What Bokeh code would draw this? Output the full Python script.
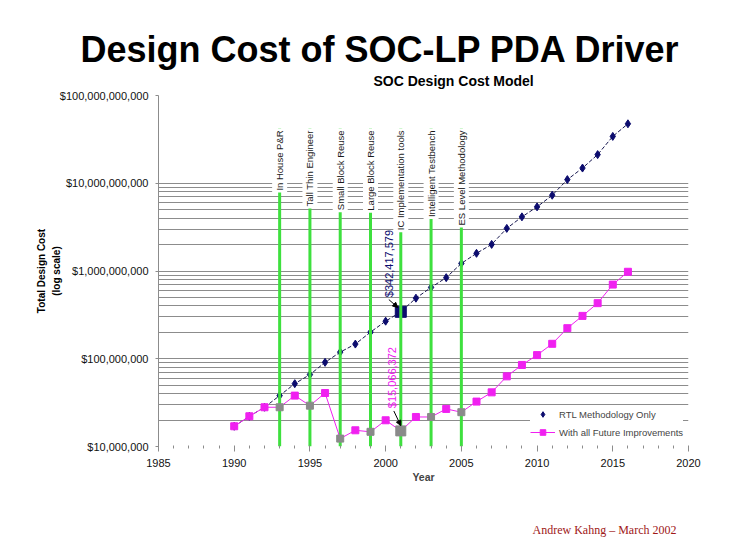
import math
from bokeh.plotting import figure
from bokeh.models import (Range1d, NumeralTickFormatter, FixedTicker, Grid, Label, Title,
                          Arrow, NormalHead, Legend, LegendItem, ColumnDataSource,
                          SingleIntervalTicker)
from bokeh.core.properties import value
from bokeh.embed import file_html
from bokeh.resources import INLINE

# ---------------- data ----------------
years = list(range(1990, 2017))
rtl_cost = [1.70e7, 2.21e7, 2.80e7, 3.80e7, 5.2e7, 6.6e7, 9.1e7, 1.19e8, 1.47e8,
            2.01e8, 2.68e8, 342417579, 4.9e8, 6.5e8, 8.4e8, 1.22e9, 1.59e9, 2.01e9,
            3.06e9, 4.14e9, 5.38e9, 7.3e9, 1.10e10, 1.49e10, 2.12e10, 3.42e10, 4.76e10]
improved_cost = [1.70e7, 2.21e7, 2.80e7, 2.80e7, 3.80e7, 2.92e7, 4.07e7, 1.23e7, 1.53e7,
                 1.47e7, 1.99e7, 15066372, 2.17e7, 2.17e7, 2.68e7, 2.46e7, 3.25e7, 4.14e7,
                 6.3e7, 8.5e7, 1.10e8, 1.48e8, 2.23e8, 3.08e8, 4.30e8, 7.0e8, 9.8e8]
milestone_years = [1993, 1995, 1997, 1999, 2001, 2003, 2005]
milestone_labels = ["In House P&R", "Tall Thin Engineer", "Small Block Reuse",
                    "Large Block Reuse", "IC Implementation tools",
                    "Intelligent Testbench", "ES Level Methodology"]
highlight_year = 2001
series_names = ["RTL Methodology Only", "With all Future Improvements"]
y_ticks = [1e7, 1e8, 1e9, 1e10, 1e11]

# ---------------- style ----------------
FONT = "Liberation Sans"
NAVY = "#0c0c6e"
MAGENTA = "#f020f0"
GREEN = "#3ee03e"
GRID = "#8c8c8c"
LABEL_TOP = 10 ** 10.625

p = figure(width=742, height=540, x_range=Range1d(1985, 2020), y_range=Range1d(1e7, 1e11),
           y_axis_type="log", output_backend="svg", toolbar_location=None,
           min_border_left=158, min_border_right=54, min_border_top=95, min_border_bottom=94)
p.outline_line_color = None
p.background_fill_color = "white"
p.xgrid.visible = False
p.ygrid.visible = False

grid_vals = [k * 10 ** n for n in range(7, 10) for k in range(2, 11)]
p.add_layout(Grid(dimension=1, ticker=FixedTicker(ticks=grid_vals),
                  grid_line_color=GRID, grid_line_width=1))

# y axis
ya = p.yaxis[0]
ya.ticker = FixedTicker(ticks=y_ticks)
ya.formatter = NumeralTickFormatter(format="$0,0")
ya.minor_tick_line_color = None
ya.major_tick_in = 0
ya.major_tick_out = 3
ya.major_tick_line_color = GRID
ya.axis_line_color = GRID
ya.major_label_text_font = FONT
ya.major_label_text_font_size = "11px"
ya.major_label_text_color = "#111111"
ya.major_label_standoff = 7
ya.axis_label = "Total Design Cost\n(log scale)"
ya.axis_label_text_font = FONT
ya.axis_label_text_font_size = "10px"
ya.axis_label_text_font_style = "bold"
ya.axis_label_text_color = "black"
ya.axis_label_text_line_height = 1.3
ya.axis_label_standoff = -5

# x axis
xa = p.xaxis[0]
xa.ticker = SingleIntervalTicker(interval=5, num_minor_ticks=5)
xa.axis_line_color = None
xa.major_tick_line_color = GRID
xa.minor_tick_line_color = GRID
xa.major_tick_in = 0
xa.major_tick_out = 5
xa.minor_tick_in = 1
xa.minor_tick_out = 2
xa.major_label_text_font = FONT
xa.major_label_text_font_size = "11px"
xa.major_label_text_color = "#111111"
xa.major_label_standoff = 7
xa.axis_label = "Year"
xa.axis_label_text_font = FONT
xa.axis_label_text_font_size = "10.5px"
xa.axis_label_text_font_style = "bold"
xa.axis_label_standoff = 1

# ---------------- series ----------------
hi = years.index(highlight_year)
src = ColumnDataSource(dict(
    x=years, rtl=rtl_cost, imp=improved_cost,
    imp_color=["#8a8a8a" if y in milestone_years else MAGENTA for y in years],
))

p.scatter([highlight_year], [rtl_cost[hi]], marker="square", size=11, color=NAVY)
p.line("x", "rtl", source=src, color="#16164e", line_width=1, line_dash="4 2")
rtl_pts = p.scatter("x", "rtl", source=src, marker="diamond", size=8, color=NAVY)

n = len(milestone_years)
p.segment(x0=milestone_years, y0=[p.y_range.start] * n, x1=milestone_years,
          y1=[LABEL_TOP] * n, line_color=GREEN, line_width=3)

imp_line = p.line("x", "imp", source=src, color=MAGENTA, line_width=1)
imp_pts = p.scatter("x", "imp", source=src, marker="square", size=7,
                    fill_color="imp_color", line_color="imp_color")
p.scatter([highlight_year], [improved_cost[hi]], marker="square", size=10, color="#8a8a8a")

p.text(x=milestone_years, y=[LABEL_TOP] * n, text=milestone_labels, angle=math.pi / 2,
       text_align="right", text_baseline="middle", text_font=value(FONT),
       text_font_size="9.5px", text_color="#1a1a1a",
       background_fill_color="white", padding=2)

# highlighted values
p.add_layout(Label(x=highlight_year - 0.79, y=rtl_cost[hi] * 10 ** 0.167,
                   text="${:,.0f}".format(rtl_cost[hi]), angle=math.pi / 2,
                   text_align="left", text_baseline="middle", text_font=FONT,
                   text_font_size="11px", text_color=NAVY))
p.add_layout(Arrow(x_start=highlight_year - 0.79, y_start=rtl_cost[hi] * 10 ** 0.14,
                   x_end=highlight_year - 0.2, y_end=rtl_cost[hi] * 10 ** 0.05,
                   line_color="black", line_width=1,
                   end=NormalHead(size=5, fill_color="black", line_color="black")))
p.add_layout(Label(x=highlight_year - 0.6, y=improved_cost[hi] * 10 ** 0.258,
                   text="${:,.0f}".format(improved_cost[hi]), angle=math.pi / 2,
                   text_align="left", text_baseline="middle", text_font=FONT,
                   text_font_size="11px", text_color=MAGENTA))
p.add_layout(Arrow(x_start=highlight_year - 0.46, y_start=improved_cost[hi] * 10 ** 0.227,
                   x_end=highlight_year, y_end=improved_cost[hi] * 10 ** 0.06,
                   line_color="black", line_width=1,
                   end=NormalHead(size=5, fill_color="black", line_color="black")))

legend = Legend(items=[LegendItem(label=series_names[0], renderers=[rtl_pts], index=0),
                       LegendItem(label=series_names[1], renderers=[imp_line, imp_pts], index=0)],
                location=(372, 7), margin=0, padding=4, spacing=4,
                label_height=14, glyph_height=14, glyph_width=25, label_standoff=4,
                label_text_font=FONT, label_text_font_size="9.5px",
                background_fill_color="white", background_fill_alpha=1,
                border_line_color=None)
p.add_layout(legend)

# ---------------- titles ----------------
p.title.text = "Design Cost of SOC-LP PDA Driver"
p.title.align = "left"
p.title.offset = -78
p.title.text_font = FONT
p.title.text_font_size = "36px"
p.title.text_font_style = "bold"
p.title.text_color = "black"
p.title.standoff = -12

p.add_layout(Title(text="SOC Design Cost Model", align="left", offset=215,
                   text_font=FONT, text_font_size="14px", text_font_style="bold",
                   text_color="black", standoff=14), "above")

p.add_layout(Title(text="\n\nAndrew Kahng \u2013 March 2002", align="right", offset=12,
                   text_font="Liberation Serif", text_font_size="12px",
                   text_font_style="normal", text_color="#a01818", standoff=0,
                   text_line_height=1.25), "below")

open("out.html", "w").write(file_html(p, INLINE))
